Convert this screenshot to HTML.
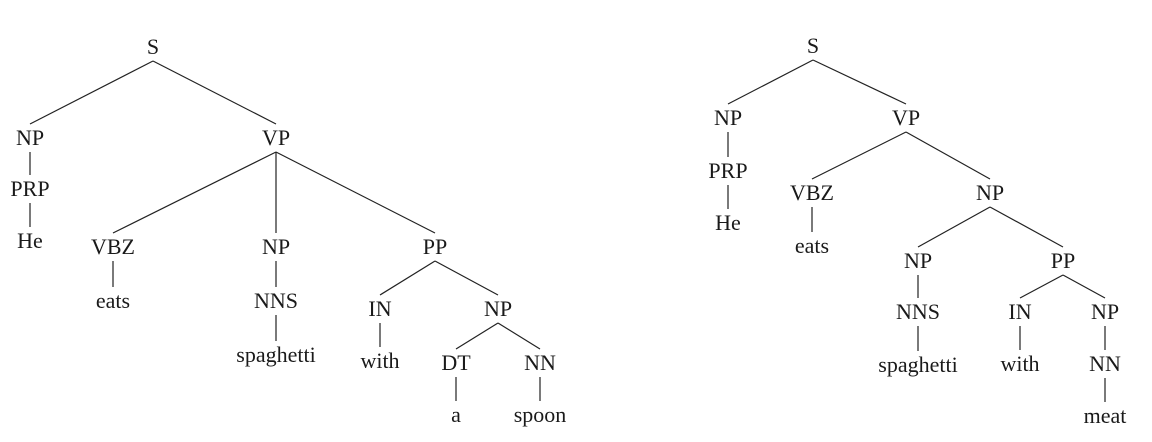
<!DOCTYPE html>
<html><head><meta charset="utf-8"><style>
html,body{margin:0;padding:0;background:#fff;}
svg{display:block;}
text{font-family:"Liberation Serif",serif;font-size:22px;fill:#1a1a1a;}
</style></head><body>
<svg id="chart" width="1152" height="442" viewBox="0 0 1152 442"></svg>
<script>
// nodes: [label, x, y, parentIndex]
const leftLabels = ["S","NP","VP","PRP","He","VBZ","NP","PP","eats","NNS","spaghetti","IN","NP","with","DT","NN","a","spoon"];
const leftX = [153,30,276,30,30,113,276,435,113,276,276,380,498,380,456,540,456,540];
const leftY = [46,137,137,188,240,246,246,246,300,300,354,308,308,360,362,362,414,414];
const leftParent = [-1,0,0,1,3,2,2,2,5,6,9,7,7,11,12,12,14,15];
const rightLabels = ["S","NP","VP","PRP","He","VBZ","NP","eats","NP","PP","NNS","spaghetti","IN","NP","with","NN","meat"];
const rightX = [813,728,906,728,728,812,990,812,918,1063,918,918,1020,1105,1020,1105,1105];
const rightY = [45,117,117,170,222,192,192,245,260,260,311,364,311,311,363,363,415];
const rightParent = [-1,0,0,1,3,2,2,5,6,6,8,10,9,9,12,13,15];
const svg = document.getElementById('chart');
const NS = "http://www.w3.org/2000/svg";
function drawTree(name, labels, xs, ys, parents){
  const g = document.createElementNS(NS,'g');
  
  
  svg.appendChild(g);
  for (let i=0;i<labels.length;i++){
    const p = parents[i];
    if (p>=0){
      const l = document.createElementNS(NS,'line');
      
      
      l.setAttribute('x1', xs[p]); l.setAttribute('y1', ys[p]+15);
      l.setAttribute('x2', xs[i]); l.setAttribute('y2', ys[i]-13);
      l.setAttribute('stroke', '#222'); l.setAttribute('stroke-width', '1.2');
      g.appendChild(l);
    }
  }
  for (let i=0;i<labels.length;i++){
    const t = document.createElementNS(NS,'text');
    
    
    t.setAttribute('x', xs[i]); t.setAttribute('y', ys[i]+8);
    t.setAttribute('text-anchor','middle');
    t.textContent = labels[i];
    g.appendChild(t);
  }
}
drawTree('left-tree', leftLabels, leftX, leftY, leftParent);
drawTree('right-tree', rightLabels, rightX, rightY, rightParent);
</script>
</body></html>
